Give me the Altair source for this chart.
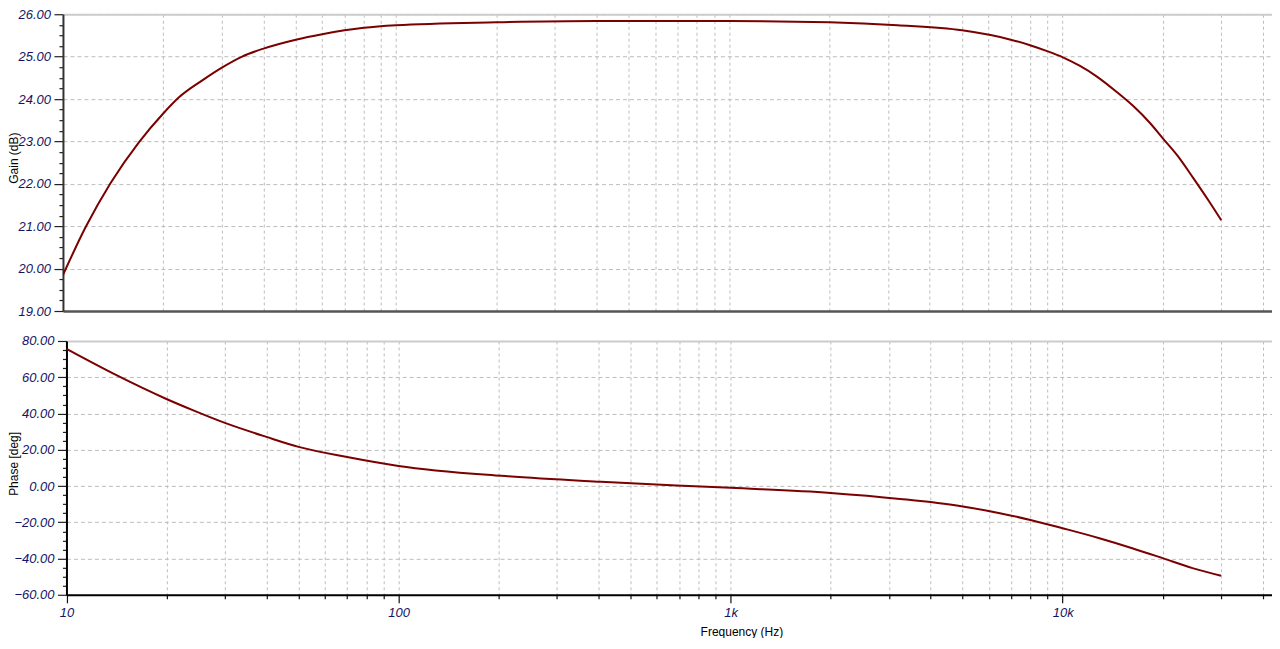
import altair as alt
import pandas as pd

# ---- data ----
gain_freq = [10, 11.7, 13.9, 16.9, 20, 22.3, 26.2, 30, 34.5, 40, 50, 60, 70, 80,
             100, 200, 400, 1000, 2000, 3200, 5000, 7000, 8000, 9000, 10000, 11300,
             12700, 14600, 16300, 18300, 20000, 22200, 24700, 27500, 30000]
gain_db = [19.85, 20.98, 22.02, 22.98, 23.66, 24.04, 24.44, 24.74, 25.00, 25.19,
           25.40, 25.53, 25.62, 25.68, 25.74, 25.81, 25.84, 25.84, 25.81, 25.74, 25.62,
           25.40, 25.27, 25.13, 24.99, 24.78, 24.53, 24.16, 23.84, 23.44, 23.08, 22.66,
           22.14, 21.60, 21.14]

phase_freq = [10, 13.9, 20, 23.9, 30, 40, 50, 70, 100, 204, 407, 1000, 2000, 3240,
              4900, 6470, 8000, 10000, 12900, 16200, 20000, 24600, 30000]
phase_deg = [75.6, 61.8, 48.0, 42.0, 34.8, 27.1, 21.6, 16.0, 11.1, 5.6, 2.3, -1.0, -3.8,
             -7.1, -11.0, -15.0, -18.7, -23.3, -28.8, -34.3, -39.8, -45.3, -49.5]

x_major = [10, 100, 1000, 10000]
x_major_labels = ["10", "100", "1k", "10k"]
x_grid = [m * 10 ** k for k in range(1, 5) for m in range(1, 10) if m * 10 ** k <= 40000]
gain_ticks = [19 + 0.25 * i for i in range(29)]
phase_ticks = [-60 + 5 * i for i in range(29)]

gain_df = pd.DataFrame({"f": gain_freq, "v": gain_db})
phase_df = pd.DataFrame({"f": phase_freq, "v": phase_deg})

FONT = "Liberation Sans"
LABEL_COLOR = "#141464"
LINE_COLOR = "#7b0000"
GRID_COLOR = "#bdbdbd"
PANEL_W = 1210

x_label_expr = " : ".join(
    f"datum.value == {v} ? '{t}'" for v, t in zip(x_major, x_major_labels)
) + " : ''"
x_major_test = "indexof([10, 100, 1000, 10000], datum.value) >= 0"


def panel(df, ytitle, ydomain, yticks, ymaj_test, height, xmax, bottom,
          left_color, shift, title_x, title_y):
    xscale = alt.Scale(type="log", domain=[10, xmax], nice=False,
                       range=[shift, PANEL_W])
    yscale = alt.Scale(domain=ydomain, nice=False, zero=False)
    yaxis = alt.Axis(
        values=yticks,
        labelExpr=f"({ymaj_test}) ? format(datum.value, '.2f') : ''",
        tickSize={"condition": {"test": ymaj_test, "value": 9}, "value": 4},
        tickColor="#222222",
        tickWidth=1.2,
        grid=True,
        gridDash=[4, 3],
        gridColor=GRID_COLOR,
        gridOpacity={"condition": {"test": ymaj_test, "value": 1}, "value": 0},
        domainColor=left_color,
        domainWidth=2,
        offset=-shift,
        labelFont=FONT,
        labelFontSize=13,
        labelFontStyle="italic",
        labelColor=LABEL_COLOR,
        labelPadding=3.5,
        labelOverlap=False,
        labelFlush=False,
        labelBound=False,
        title=ytitle,
        titleFont=FONT,
        titleFontSize=12,
        titleFontWeight="normal",
        titleColor="black",
        titleAngle=270,
        titleBaseline="top",
        titleAlign="center",
        titleX=title_x,
        titleY=title_y,
        minExtent=0,
    )
    if bottom:
        xaxis = alt.Axis(
            values=x_grid,
            labelExpr=x_label_expr,
            tickSize={"condition": {"test": x_major_test, "value": 8}, "value": 4},
            tickColor="#111111",
            tickWidth=1.2,
            grid=True,
            gridDash=[3, 3],
            gridColor=GRID_COLOR,
            domainColor="black",
            domainWidth=2,
            labelFont=FONT,
            labelFontSize=13,
            labelFontStyle="italic",
            labelColor=LABEL_COLOR,
            labelPadding=4,
            labelOverlap=False,
            labelFlush=False,
            labelBound=False,
            title="Frequency (Hz)",
            titleFont=FONT,
            titleFontSize=12,
            titleFontWeight="normal",
            titleColor="black",
            titleX=679,
            titleY=37,
            titleBaseline="middle",
            titleAlign="center",
            minExtent=0,
        )
    else:
        xaxis = alt.Axis(
            values=x_grid,
            labels=False,
            ticks=False,
            grid=True,
            gridDash=[3, 3],
            gridColor=GRID_COLOR,
            domainColor="#555555",
            domainWidth=2.5,
            title=None,
            minExtent=0,
        )
    main = alt.Chart(df).mark_line(color=LINE_COLOR, strokeWidth=2, clip=True,
                                   interpolate="monotone").encode(
        x=alt.X("f:Q", scale=xscale, axis=xaxis),
        y=alt.Y("v:Q", scale=yscale, axis=yaxis),
    )
    top_border = alt.Chart(df).mark_line(opacity=0).encode(
        x=alt.X("f:Q", scale=xscale, axis=alt.Axis(orient="top", labels=False, ticks=False,
                                                   grid=False, domainColor="#cccccc",
                                                   domainWidth=2, title=None,
                                                   minExtent=0)),
        y=alt.Y("v:Q", scale=yscale, axis=None),
    )
    return (
        alt.layer(main, top_border)
        .resolve_axis(x="independent", y="independent")
        .properties(width=PANEL_W, height=height)
    )


top = panel(gain_df, "Gain (dB)", [19, 26], gain_ticks, "datum.value % 1 == 0",
            297, 42600, False, "#333333", 0, -54, 143.5)
bottom = panel(phase_df, "Phase [deg]", [-60, 80], phase_ticks, "datum.value % 20 == 0",
               254, 42700, True, "#000000", 3.5, -57.5, 122.5)

chart = (
    alt.concat(top, bottom, columns=1, spacing=17)
    .properties(padding={"left": 0, "top": 0, "right": 0, "bottom": 0},
                background="white")
    .configure_view(stroke=None)
)

chart.save("out.html", embed_options={"renderer": "svg", "actions": False})
